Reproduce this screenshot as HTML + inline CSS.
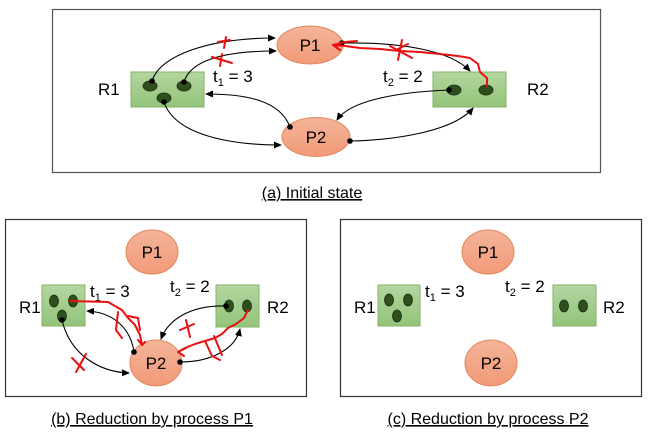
<!DOCTYPE html>
<html><head><meta charset="utf-8"><style>
html,body{margin:0;padding:0;background:#fff;}
svg{display:block;font-family:"Liberation Sans",sans-serif;}
.lbl{font-size:17px;fill:#000;}
.cap{font-size:16px;fill:#000;text-decoration:underline;}
.ar{fill:none;stroke:#000;stroke-width:1.1;marker-end:url(#ah);}
.red{fill:none;stroke:#e81010;stroke-width:2;stroke-linejoin:round;stroke-linecap:round;}
</style></head><body>
<svg width="651" height="442" viewBox="0 0 651 442" xmlns="http://www.w3.org/2000/svg">
<defs>
<marker id="ah" markerWidth="8" markerHeight="8" refX="7" refY="4" orient="auto" markerUnits="userSpaceOnUse">
<path d="M0,0.5 L8,4 L0,7.5 Z" fill="#000"/></marker>
<linearGradient id="g" x1="0" y1="0" x2="0" y2="1"><stop offset="0" stop-color="#b4d6a0"/><stop offset="1" stop-color="#93c47a"/></linearGradient>
<linearGradient id="o" x1="0" y1="0" x2="0" y2="1"><stop offset="0" stop-color="#f4b49a"/><stop offset="1" stop-color="#f19a78"/></linearGradient>
</defs>

<!-- Panel a -->
<rect x="52.5" y="9.5" width="548" height="163" fill="#fff" stroke="#555" stroke-width="1.2"/>
<rect x="131" y="72" width="73" height="35" fill="url(#g)" stroke="#82b366"/>
<rect x="433" y="72" width="73" height="35" fill="url(#g)" stroke="#82b366"/>
<ellipse cx="310" cy="45" rx="33" ry="19" fill="url(#o)" stroke="#e0875a"/>
<ellipse cx="316" cy="137" rx="34" ry="19.5" fill="url(#o)" stroke="#e0875a"/>
<text x="310" y="51" class="lbl" text-anchor="middle">P1</text>
<text x="316" y="143" class="lbl" text-anchor="middle">P2</text>
<text x="98" y="95" class="lbl">R1</text>
<text x="527" y="95" class="lbl">R2</text>
<text x="213" y="82" class="lbl">t<tspan font-size="11" dy="4">1</tspan><tspan dy="-4"> = 3</tspan></text>
<text x="383" y="82" class="lbl">t<tspan font-size="11" dy="4">2</tspan><tspan dy="-4"> = 2</tspan></text>
<g fill="#2f4f1e" stroke="#1a2e10" stroke-width="0.8">
<ellipse cx="150" cy="86" rx="7" ry="5"/><ellipse cx="184" cy="86" rx="7" ry="5"/><ellipse cx="164" cy="98" rx="7" ry="5"/>
<ellipse cx="454" cy="90" rx="7" ry="5"/><ellipse cx="486" cy="90" rx="7" ry="5"/></g>
<path class="ar" d="M152,81 C160,55 210,38 275,38"/>
<path class="ar" d="M184,82 C190,62 220,51 276,51"/>
<path class="ar" d="M290,127 C280,100 245,94 206,94"/>
<path class="ar" d="M164,102 C175,135 230,145 281,145"/>
<path class="ar" d="M342,43 C400,42 450,50 470,71"/>
<path class="ar" d="M449,90 C400,92 350,100 337,120"/>
<path class="ar" d="M350,141 C400,140 455,130 473,108"/>
<g fill="#000"><circle cx="152" cy="81" r="2.8"/><circle cx="184" cy="82" r="2.8"/><circle cx="290" cy="127" r="2.8"/><circle cx="164" cy="102" r="2.8"/><circle cx="342" cy="43" r="2.8"/><circle cx="449" cy="90" r="2.8"/><circle cx="350" cy="141" r="2.8"/></g>
<path class="red" d="M487,86 L487,78 L480,72 L478,64 L470,58 L458,56 L440,54 L420,52 L400,51 L380,49 L360,48 L345,46 L333,45 L340,50 M333,45 L345,42 L357,41"/>
<path class="red" d="M402,40 L398,60 M390,46 L412,58 M396,50 L408,44"/>
<path class="red" d="M226,37 L224,48 M218,42 L230,40"/>
<path class="red" d="M212,57 L232,63 M222,54 L220,66"/>
<text x="312" y="198" class="cap" text-anchor="middle">(a) Initial state</text>

<!-- Panel b -->
<rect x="5.5" y="219.5" width="301" height="177" fill="#fff" stroke="#333" stroke-width="1.2"/>
<ellipse cx="152" cy="252" rx="26" ry="22" fill="url(#o)" stroke="#e0875a"/>
<ellipse cx="156" cy="363" rx="26" ry="23" fill="url(#o)" stroke="#e0875a"/>
<rect x="42" y="285" width="43" height="41" fill="url(#g)" stroke="#82b366"/>
<rect x="216" y="285" width="43" height="42" fill="url(#g)" stroke="#82b366"/>
<text x="152" y="258" class="lbl" text-anchor="middle">P1</text>
<text x="156" y="369" class="lbl" text-anchor="middle">P2</text>
<text x="19" y="313" class="lbl">R1</text>
<text x="267" y="313" class="lbl">R2</text>
<text x="90" y="297" class="lbl">t<tspan font-size="11" dy="4">1</tspan><tspan dy="-4"> = 3</tspan></text>
<text x="170" y="292" class="lbl">t<tspan font-size="11" dy="4">2</tspan><tspan dy="-4"> = 2</tspan></text>
<g fill="#2f4f1e" stroke="#1a2e10" stroke-width="0.8">
<ellipse cx="54" cy="301" rx="4.5" ry="6"/><ellipse cx="73" cy="301" rx="4.5" ry="6"/><ellipse cx="62" cy="316" rx="4.5" ry="6"/>
<ellipse cx="229" cy="306" rx="4.5" ry="6"/><ellipse cx="247" cy="306" rx="4.5" ry="6"/></g>
<path class="ar" d="M134,352 C130,325 110,312 87,311"/>
<path class="ar" d="M62,320 C70,355 100,372 129,373"/>
<path class="ar" d="M226,306 C190,305 168,320 161,339"/>
<path class="ar" d="M180,362 C210,362 235,350 240,329"/>
<g fill="#000"><circle cx="134" cy="352" r="2.8"/><circle cx="62" cy="320" r="2.8"/><circle cx="226" cy="306" r="2.8"/><circle cx="180" cy="362" r="2.8"/></g>
<path class="red" d="M70,301 L108,302 L115,306 L122,310 L128,318 L135,325 L140,335 L142,345 L145,342 M142,345 L138,340 M118,312 L116,330 L122,338 M128,316 L138,318 L140,330"/>
<path class="red" d="M248,310 L244,318 L236,324 L228,328 L222,334 L215,338 L205,341 L195,344 L185,348 L178,352 L186,348 M178,352 L184,356 M205,341 L212,356 L220,360 M214,336 L222,355"/>
<path class="red" d="M186,320 L190,337 M180,330 L194,324"/>
<path class="red" d="M72,358 L84,370 M86,354 L76,372"/>
<text x="152" y="424" class="cap" text-anchor="middle">(b) Reduction by process P1</text>

<!-- Panel c -->
<rect x="340.5" y="219.5" width="301" height="177" fill="#fff" stroke="#333" stroke-width="1.2"/>
<ellipse cx="488" cy="252" rx="26" ry="22" fill="url(#o)" stroke="#e0875a"/>
<ellipse cx="491" cy="363" rx="26" ry="23" fill="url(#o)" stroke="#e0875a"/>
<rect x="378" y="285" width="42" height="41" fill="url(#g)" stroke="#82b366"/>
<rect x="553" y="285" width="43" height="41" fill="url(#g)" stroke="#82b366"/>
<text x="488" y="258" class="lbl" text-anchor="middle">P1</text>
<text x="491" y="369" class="lbl" text-anchor="middle">P2</text>
<text x="354" y="313" class="lbl">R1</text>
<text x="603" y="313" class="lbl">R2</text>
<text x="425" y="297" class="lbl">t<tspan font-size="11" dy="4">1</tspan><tspan dy="-4"> = 3</tspan></text>
<text x="505" y="292" class="lbl">t<tspan font-size="11" dy="4">2</tspan><tspan dy="-4"> = 2</tspan></text>
<g fill="#2f4f1e" stroke="#1a2e10" stroke-width="0.8">
<ellipse cx="389" cy="300" rx="4.5" ry="6"/><ellipse cx="408" cy="300" rx="4.5" ry="6"/><ellipse cx="397" cy="316" rx="4.5" ry="6"/>
<ellipse cx="564" cy="306" rx="4.5" ry="6"/><ellipse cx="583" cy="306" rx="4.5" ry="6"/></g>
<text x="488" y="424" class="cap" text-anchor="middle">(c) Reduction by process P2</text>
</svg>
</body></html>
